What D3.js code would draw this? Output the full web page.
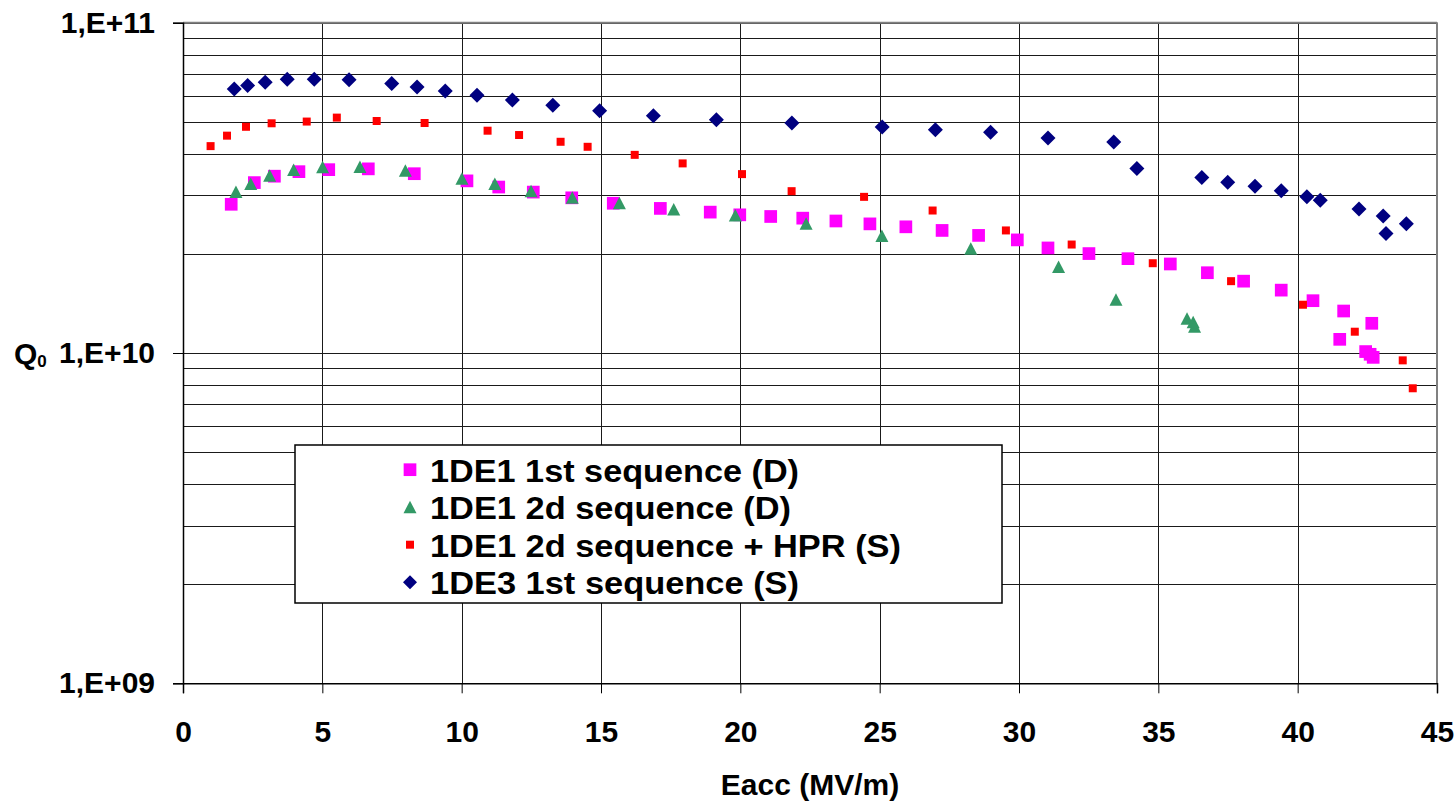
<!DOCTYPE html>
<html>
<head>
<meta charset="utf-8">
<script src="https://cdn.jsdelivr.net/npm/d3@7"></script>
<style>
  body { margin: 0; background: #fff; }
  svg text { font-family: "Liberation Sans", Arial, sans-serif; font-weight: bold; fill: #000; }
</style>
</head>
<body>
<div id="chart"></div>
<script>
// 1DE1 1st sequence (D)
var de1FirstE = [1.73, 2.56, 3.28, 4.16, 5.23, 6.65, 8.30, 10.19, 11.33, 12.57, 13.95, 15.44, 17.13, 18.92, 19.98, 21.09, 22.24, 23.43, 24.65, 25.94, 27.24, 28.55, 29.94, 31.04, 32.51, 33.91, 35.43, 36.76, 38.06, 39.41, 40.55, 41.65, 41.51, 42.66, 42.44, 42.60, 42.71];
var de1FirstQ = [2.82e10, 3.28e10, 3.43e10, 3.54e10, 3.59e10, 3.61e10, 3.49e10, 3.32e10, 3.18e10, 3.07e10, 2.95e10, 2.84e10, 2.74e10, 2.67e10, 2.62e10, 2.59e10, 2.56e10, 2.51e10, 2.46e10, 2.41e10, 2.35e10, 2.27e10, 2.20e10, 2.08e10, 2.00e10, 1.93e10, 1.86e10, 1.75e10, 1.65e10, 1.55e10, 1.44e10, 1.34e10, 1.10e10, 1.23e10, 1.01e10, 9.91e9, 9.70e9];

// 1DE1 2d sequence (D)
var de1SecondE = [1.90, 2.43, 3.11, 3.97, 5.01, 6.35, 7.98, 10.01, 11.19, 12.49, 13.97, 15.66, 17.61, 19.82, 22.36, 25.08, 28.27, 31.42, 33.48, 36.03, 36.25, 36.30];
var de1SecondQ = [3.07e10, 3.25e10, 3.44e10, 3.58e10, 3.65e10, 3.66e10, 3.56e10, 3.37e10, 3.25e10, 3.09e10, 2.95e10, 2.84e10, 2.72e10, 2.61e10, 2.46e10, 2.26e10, 2.07e10, 1.82e10, 1.45e10, 1.27e10, 1.24e10, 1.20e10];

// 1DE1 2d sequence + HPR (S)
var de1HprE = [0.99, 1.58, 2.26, 3.18, 4.44, 5.52, 6.95, 8.67, 10.93, 12.06, 13.55, 14.52, 16.21, 17.93, 20.06, 21.84, 24.44, 26.90, 29.53, 31.89, 34.80, 37.61, 40.19, 42.05, 43.77, 44.13];
var de1HprQ = [4.23e10, 4.55e10, 4.84e10, 4.96e10, 5.02e10, 5.16e10, 5.04e10, 4.97e10, 4.71e10, 4.57e10, 4.36e10, 4.21e10, 3.98e10, 3.75e10, 3.48e10, 3.09e10, 2.97e10, 2.70e10, 2.35e10, 2.13e10, 1.87e10, 1.65e10, 1.40e10, 1.16e10, 9.50e9, 7.82e9];

// 1DE3 1st sequence (S)
var de3FirstE = [1.84, 2.32, 2.95, 3.74, 4.71, 5.96, 7.49, 8.40, 9.41, 10.55, 11.82, 13.27, 14.95, 16.88, 19.14, 21.85, 25.09, 27.00, 28.98, 31.04, 33.40, 34.23, 36.56, 37.49, 38.47, 39.41, 40.33, 40.81, 42.20, 43.07, 43.17, 43.90];
var de3FirstQ = [6.30e10, 6.45e10, 6.60e10, 6.74e10, 6.74e10, 6.72e10, 6.54e10, 6.39e10, 6.21e10, 6.03e10, 5.83e10, 5.62e10, 5.41e10, 5.23e10, 5.08e10, 4.97e10, 4.83e10, 4.74e10, 4.66e10, 4.48e10, 4.35e10, 3.62e10, 3.40e10, 3.29e10, 3.20e10, 3.10e10, 2.97e10, 2.90e10, 2.73e10, 2.60e10, 2.30e10, 2.46e10];

var xTicks = [0, 5, 10, 15, 20, 25, 30, 35, 40, 45];
var yTicks = [1e9, 1e10, 1e11];
var yTickLabels = ["1,E+09", "1,E+10", "1,E+11"];
var seriesNames = ["1DE1 1st sequence (D)", "1DE1 2d sequence (D)", "1DE1 2d sequence + HPR (S)", "1DE3 1st sequence (S)"];

var width = 1456, height = 801;
var plotLeft = 183, plotRight = 1437, plotTop = 22.7, plotBottom = 683.3;

var svg = d3.select('#chart').append('svg')
  .attr('width', width)
  .attr('height', height);

var x = d3.scaleLinear().domain([0, 45]).range([plotLeft, plotRight]);
var y = d3.scaleLog().domain([1e9, 1e11]).range([plotBottom, plotTop]);

// marker shapes
function square(s) {
  var h = s / 2;
  return 'M' + (-h) + ',' + (-h) + 'H' + h + 'V' + h + 'H' + (-h) + 'Z';
}
function triangle(s) {
  var h = s / 2;
  return 'M0,' + (-h) + 'L' + h + ',' + (h - 0.5) + 'L' + (-h) + ',' + (h - 0.5) + 'Z';
}
function diamond(s) {
  var h = s / 2;
  return 'M0,' + (-h) + 'L' + h + ',0L0,' + h + 'L' + (-h) + ',0Z';
}

var series = [
  { name: seriesNames[0], e: de1FirstE, q: de1FirstQ, color: '#ff00ff', path: square(12.7), legendPath: square(12.7) },
  { name: seriesNames[1], e: de1SecondE, q: de1SecondQ, color: '#339966', path: triangle(13), legendPath: triangle(13) },
  { name: seriesNames[2], e: de1HprE, q: de1HprQ, color: '#ff0000', path: square(8), legendPath: square(8) },
  { name: seriesNames[3], e: de3FirstE, q: de3FirstQ, color: '#000080', path: diamond(15), legendPath: diamond(14) }
];

// horizontal grid (1..9 of each decade)
var hGrid = [];
[1e9, 1e10].forEach(function(d) {
  for (var k = 1; k < 10; k++) hGrid.push(k * d);
});
hGrid.push(1e11);

svg.append('g').selectAll('line')
  .data(hGrid)
  .enter().append('line')
  .attr('x1', plotLeft).attr('x2', plotRight)
  .attr('y1', function(d) { return Math.round(y(d)) + 0.5; })
  .attr('y2', function(d) { return Math.round(y(d)) + 0.5; })
  .attr('stroke', '#1a1a1a')
  .attr('stroke-width', 1);

svg.append('g').selectAll('line')
  .data(xTicks.slice(1))
  .enter().append('line')
  .attr('x1', function(d) { return Math.round(x(d)) + 0.5; })
  .attr('x2', function(d) { return Math.round(x(d)) + 0.5; })
  .attr('y1', plotTop).attr('y2', plotBottom)
  .attr('stroke', '#1a1a1a')
  .attr('stroke-width', 1);

// plot border
svg.append('line')
  .attr('x1', plotLeft).attr('x2', plotRight).attr('y1', plotTop).attr('y2', plotTop)
  .attr('stroke', '#808080').attr('stroke-width', 2);
svg.append('line')
  .attr('x1', plotRight).attr('x2', plotRight).attr('y1', plotTop).attr('y2', plotBottom)
  .attr('stroke', '#808080').attr('stroke-width', 2);

// axes
var xAxis = d3.axisBottom(x)
  .tickValues(xTicks)
  .tickSize(10)
  .tickPadding(27)
  .tickFormat(d3.format('d'));

var gx = svg.append('g')
  .attr('transform', 'translate(0,' + plotBottom + ')')
  .call(xAxis);
gx.select('.domain').attr('stroke', '#000').attr('stroke-width', 1.5);
gx.selectAll('.tick line').attr('stroke', '#000');
gx.selectAll('text').attr('font-size', 30).attr('fill', '#000');

var yAxis = d3.axisLeft(y)
  .tickValues(yTicks)
  .tickSize(10)
  .tickPadding(18)
  .tickFormat(function(d, i) { return yTickLabels[i]; });

var gy = svg.append('g')
  .attr('transform', 'translate(' + plotLeft + ',0)')
  .call(yAxis);
gy.select('.domain').attr('stroke', '#000').attr('stroke-width', 1.5);
gy.selectAll('.tick line').attr('stroke', '#000');
gy.selectAll('text').attr('font-size', 30).attr('fill', '#000');

// axis titles
svg.append('text')
  .attr('x', (plotLeft + plotRight) / 2)
  .attr('y', 795)
  .attr('text-anchor', 'middle')
  .attr('font-size', 30)
  .text('Eacc (MV/m)');

var qLabel = svg.append('text')
  .attr('x', 14)
  .attr('y', 363.5)
  .attr('font-size', 30);
qLabel.append('tspan').text('Q');
qLabel.append('tspan').attr('font-size', 17).attr('dy', 3.5).text('0');

// points
series.forEach(function(s) {
  svg.append('g').selectAll('path')
    .data(s.e)
    .enter().append('path')
    .attr('d', s.path)
    .attr('fill', s.color)
    .attr('transform', function(d, i) {
      return 'translate(' + x(d) + ',' + y(s.q[i]) + ')';
    });
});

// legend
var legend = svg.append('g');
legend.append('rect')
  .attr('x', 295).attr('y', 445)
  .attr('width', 707).attr('height', 158)
  .attr('fill', '#fff')
  .attr('stroke', '#000')
  .attr('stroke-width', 1.5);

var textWidths = [369, 361, 471, 369];
series.forEach(function(s, i) {
  var base = 481.7 + i * 37.5;
  legend.append('path')
    .attr('d', s.legendPath)
    .attr('fill', s.color)
    .attr('transform', 'translate(410,' + (base - 12) + ')');
  legend.append('text')
    .attr('x', 430)
    .attr('y', base)
    .attr('font-size', 32)
    .attr('textLength', textWidths[i])
    .attr('lengthAdjust', 'spacingAndGlyphs')
    .text(s.name);
});
</script>
</body>
</html>
